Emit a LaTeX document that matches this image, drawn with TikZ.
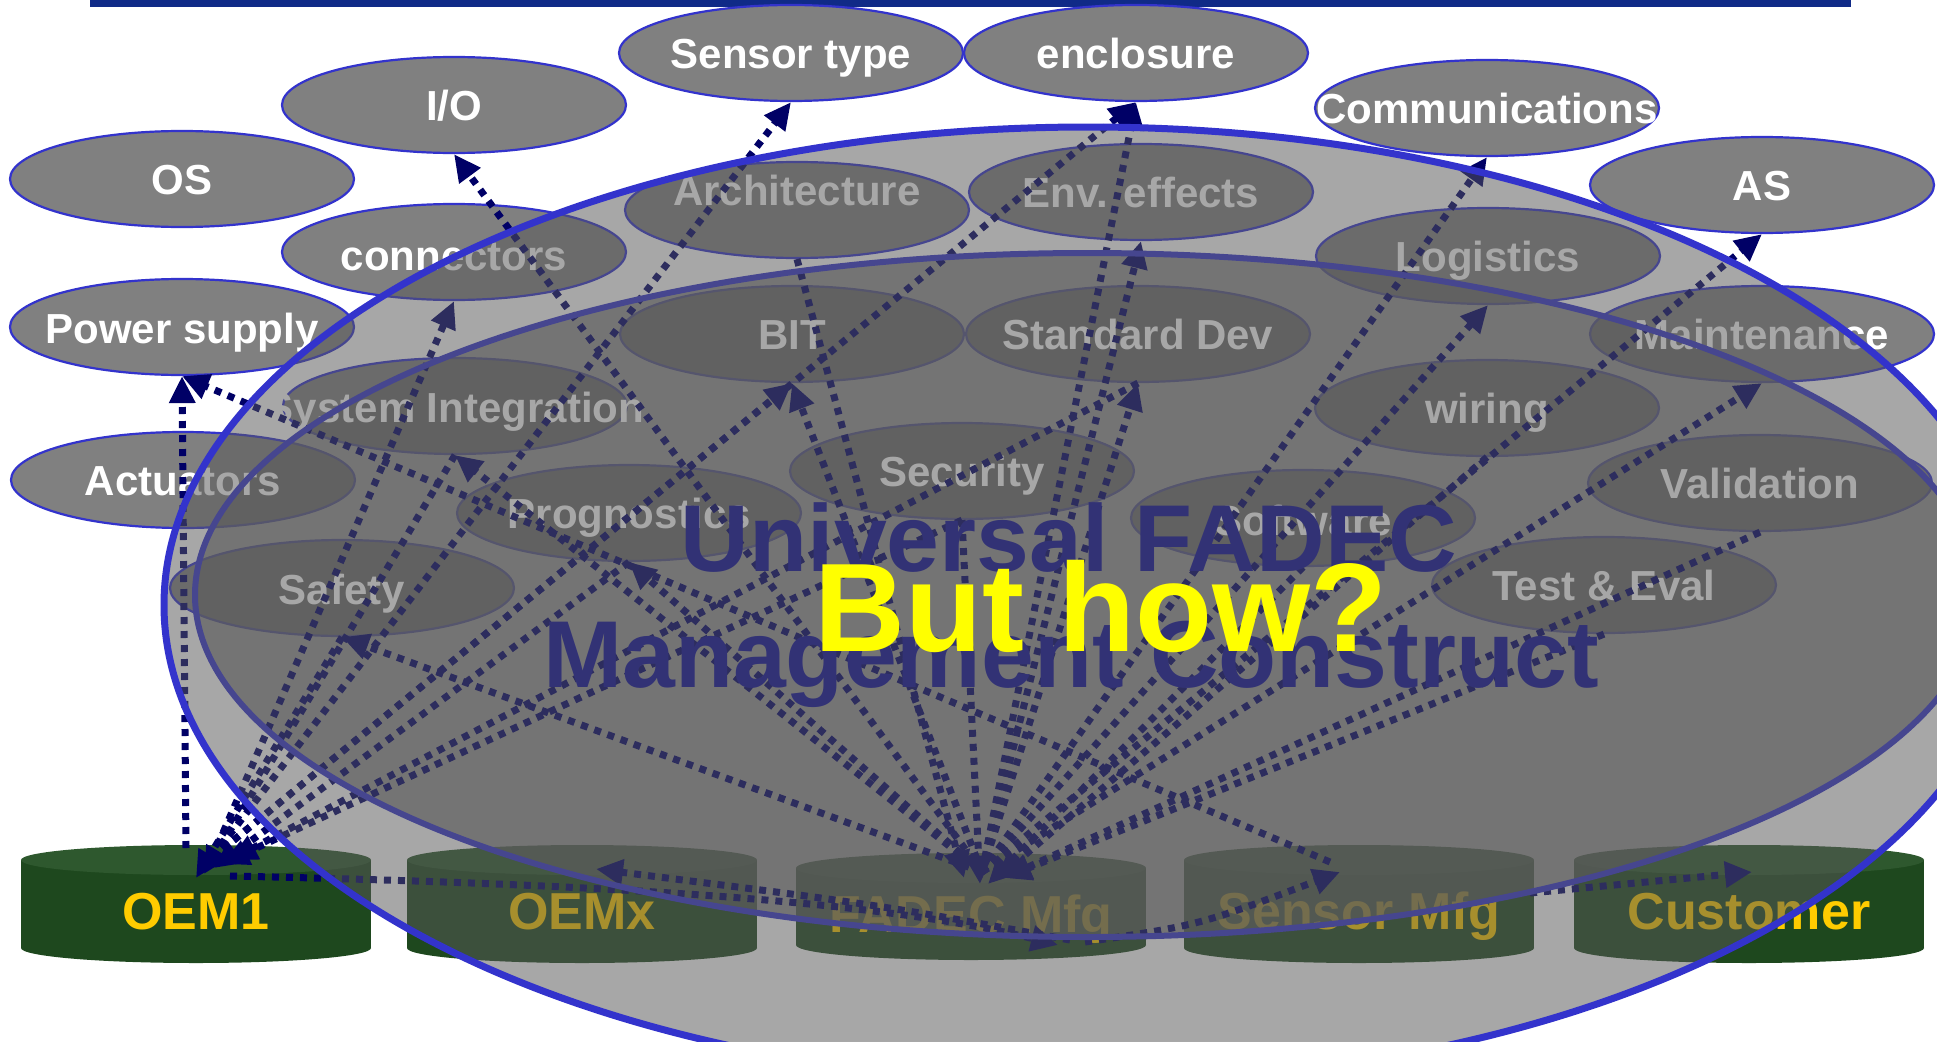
\documentclass[tikz,border=0pt]{standalone}
\usepackage{fontspec}
\setmainfont{Liberation Sans}
\usetikzlibrary{arrows.meta,shapes.geometric}
\definecolor{ellfill}{RGB}{128,128,128}
\definecolor{ellline}{RGB}{51,51,204}
\definecolor{navyarr}{RGB}{0,0,102}
\definecolor{barblue}{RGB}{16,42,135}
\definecolor{cylbody}{RGB}{30,72,30}
\definecolor{cyltop}{RGB}{46,88,46}
\definecolor{cyltext}{RGB}{255,204,0}
\definecolor{innerov}{RGB}{98,98,98}
\definecolor{outerov}{RGB}{88,88,88}
\definecolor{bigtext}{RGB}{10,10,150}
\definecolor{howyellow}{RGB}{255,255,0}
\newcommand\cylinderat[3]{%
  \fill[cylbody] (#1,#3-15) ellipse[x radius=175, y radius=15];
  \fill[cylbody] (#1-175,#2+15) rectangle (#1+175,#3-15);
  \fill[cyltop] (#1,#2+15) ellipse[x radius=175, y radius=15];
}
\begin{document}
\begin{tikzpicture}[x=1pt,y=-1pt,
  ellshape/.style={ellipse, minimum width=344pt, minimum height=96pt, inner sep=0pt, fill=ellfill, draw=ellline, line width=2.2pt},
  elltext/.style={text=white, font=\fontsize{42}{42}\selectfont\bfseries, anchor=base, inner sep=0pt},
  cyltxt/.style={text=cyltext, font=\fontsize{52}{52}\selectfont\bfseries, anchor=base, inner sep=0pt},
  dotarrow/.style={draw=navyarr, line width=7pt, dash pattern=on 7pt off 7pt, -{Triangle[length=27pt,width=25pt]}},
  bigtxt/.style={text=bigtext, font=\fontsize{95}{95}\selectfont\bfseries, anchor=base, inner sep=0pt},
  howtxt/.style={text=howyellow, font=\fontsize{126}{126}\selectfont\bfseries, anchor=base, inner sep=0pt}
]
\useasboundingbox (0,0) rectangle (1937,1041);
\clip (0,0) rectangle (1937,1041);
\fill[white] (0,0) rectangle (1937,1041);
% top bar
\fill[barblue] (90,0) rectangle (1851,7);

% small ellipse shapes
\node[ellshape] (os) at (182,179) {};
\node[ellshape] (io) at (454,105) {};
\node[ellshape] (sensortype) at (791,53) {};
\node[ellshape] (enclosure) at (1136,53) {};
\node[ellshape] (comm) at (1487,108) {};
\node[ellshape] (as) at (1762,185) {};
\node[ellshape] (arch) at (797,210) {};
\node[ellshape] (env) at (1141,192) {};
\node[ellshape] (conn) at (454,252) {};
\node[ellshape] (logi) at (1488,256) {};
\node[ellshape] (ps) at (182,327) {};
\node[ellshape] (bit) at (792,334) {};
\node[ellshape] (stddev) at (1138,334) {};
\node[ellshape] (maint) at (1762,334) {};
\node[ellshape] (sysint) at (455,406) {};
\node[ellshape] (wiring) at (1487,408) {};
\node[ellshape] (act) at (183,480) {};
\node[ellshape] (security) at (962,471) {};
\node[ellshape] (valid) at (1760,483) {};
\node[ellshape] (prog) at (629,513) {};
\node[ellshape] (software) at (1303,518) {};
\node[ellshape] (safety) at (342,588) {};
\node[ellshape] (testeval) at (1604,585) {};

% cylinders
\cylinderat{196}{845}{963}
\cylinderat{582}{845}{963}
\cylinderat{971}{853}{960}
\cylinderat{1359}{845}{963}
\cylinderat{1749}{845}{963}
\node[cyltxt] (oem1) at (196,929) {OEM1};
\node[cyltxt] (oemx) at (582,929) {OEMx};
\node[cyltxt] (fadec) at (971,932) {FADEC Mfg};
\node[cyltxt] (sensmfg) at (1359,929) {Sensor Mfg};
\node[cyltxt] (customer) at (1749,929) {Customer};

% inner construct overlay
\fill[innerov, fill opacity=0.68] (1087,595) ellipse[x radius=892, y radius=342];

% ellipse texts
\node[elltext] at ([yshift=-15pt]os.center) {OS};
\node[elltext] at ([yshift=-15pt]io.center) {I/O};
\node[elltext] at ([yshift=-15pt]sensortype.center) {Sensor type};
\node[elltext] at ([yshift=-15pt]enclosure.center) {enclosure};
\node[elltext] at ([yshift=-15pt]comm.center) {Communications};
\node[elltext] at ([yshift=-15pt]as.center) {AS};
\node[elltext] at ([yshift=5pt]arch.center) {Architecture};
\node[elltext] at ([yshift=-15pt]env.center) {Env. effects};
\node[elltext] at ([yshift=-18pt]conn.center) {connectors};
\node[elltext] at ([yshift=-15pt]logi.center) {Logistics};
\node[elltext] at ([yshift=-16pt]ps.center) {Power supply};
\node[elltext] at ([yshift=-15pt]bit.center) {BIT};
\node[elltext] at ([yshift=-15pt]stddev.center) {Standard Dev};
\node[elltext] at ([yshift=-15pt]maint.center) {Maintenance};
\node[elltext] at ([yshift=-16pt]sysint.center) {System Integration};
\node[elltext] at ([yshift=-15pt]wiring.center) {wiring};
\node[elltext] at ([yshift=-15pt]act.center) {Actuators};
\node[elltext] at ([yshift=-15pt]security.center) {Security};
\node[elltext] at ([yshift=-15pt]valid.center) {Validation};
\node[elltext] at ([yshift=-15pt]prog.center) {Prognostics};
\node[elltext] at ([yshift=-17pt]software.center) {Software};
\node[elltext] at ([yshift=-16pt]safety.center) {Safety};
\node[elltext] at ([yshift=-15pt]testeval.center) {Test \& Eval};

% hub coordinates
\coordinate (oemv) at (186,848);
\coordinate (oemtop) at (212,858);
\coordinate (oemin1) at (196,878);
\coordinate (oemin2) at (204,874);
\coordinate (oemin3) at (214,868);
\coordinate (oemin4) at (222,864);
\coordinate (oemin5) at (230,860);
\coordinate (fadtop) at (982,872);
\coordinate (fadin1) at (972,880);
\coordinate (fadin2) at (980,884);
\coordinate (fadin3) at (988,884);
\coordinate (fadin4) at (996,880);
\coordinate (fadin5) at (1004,878);
\coordinate (fadin6) at (964,878);
\coordinate (senstop) at (1330,862);
\coordinate (oemright) at (230,876);
\coordinate (fadlow1) at (1058,945);
\coordinate (fadlow2) at (1070,940);
\coordinate (fadlow3) at (1085,942);
\coordinate (oemxin) at (596,869);
\coordinate (sensin) at (1340,872);
\coordinate (sensright) at (1530,893);
\coordinate (custin) at (1752,872);

% connectors from OEM1
\draw[dotarrow] (oemv) -- (ps.south);
\draw[dotarrow] (oemtop) -- (sensortype.south);
\draw[dotarrow] (oemtop) -- (enclosure.south);
\draw[dotarrow] (oemtop) -- (conn.south);
\draw[dotarrow] (oemtop) -- (bit.south);
% connectors into OEM1
\draw[dotarrow] (safety.south) -- (oemin1);
\draw[dotarrow] (sysint.south) -- (oemin2);
\draw[dotarrow] (prog.south) -- (oemin3);
\draw[dotarrow] (security.south) -- (oemin4);
\draw[dotarrow] (stddev.south) -- (oemin5);
% connectors from FADEC Mfg
\draw[dotarrow] (fadtop) -- (io.south);
\draw[dotarrow] (fadtop) -- (enclosure.south);
\draw[dotarrow] (fadtop) -- (comm.south);
\draw[dotarrow] (fadtop) -- (as.south);
\draw[dotarrow] (fadtop) -- (env.south);
\draw[dotarrow] (fadtop) -- (stddev.south);
\draw[dotarrow] (fadtop) -- (logi.south);
\draw[dotarrow] (fadtop) -- (maint.south);
\draw[dotarrow] (fadtop) -- (bit.south);
\draw[dotarrow] (fadtop) -- (sysint.south);
\draw[dotarrow] (fadtop) -- (safety.south);
\draw[dotarrow] (fadtop) -- (prog.south);
% connectors into FADEC Mfg
\draw[dotarrow] (wiring.south) -- (fadin4);
\draw[dotarrow] (valid.south) -- (fadin5);
\draw[dotarrow] (software.south) -- (fadin3);
\draw[dotarrow] (testeval.south) -- (fadin5);
\draw[dotarrow] (security.south) -- (fadin2);
\draw[dotarrow] (arch.south) -- (fadin6);
% Sensor Mfg to Power supply
\draw[dotarrow] (senstop) -- (ps.south);
% bottom row
\draw[dotarrow] (oemright) .. controls (600,884) and (880,900) .. (fadlow1);
\draw[dotarrow] (fadlow2) .. controls (880,905) .. (oemxin);
\draw[dotarrow] (fadlow3) .. controls (1200,925) .. (sensin);
\draw[dotarrow] (sensright) -- (custin);

% inner construct outline
\draw[ellline, line width=6pt] (1087,595) ellipse[x radius=892, y radius=342];
% construct title
\node[bigtxt] (univ) at (1069,571) {Universal FADEC};
\node[bigtxt] (mgmt) at (1071,687) {Management Construct};

% outer overlay
\fill[outerov, fill opacity=0.52] (1088,605) ellipse[x radius=924, y radius=478];
\draw[ellline, line width=7pt] (1088,605) ellipse[x radius=924, y radius=478];

% question
\node[howtxt] (how) at (1101,651) {But how?};
\end{tikzpicture}
\end{document}
